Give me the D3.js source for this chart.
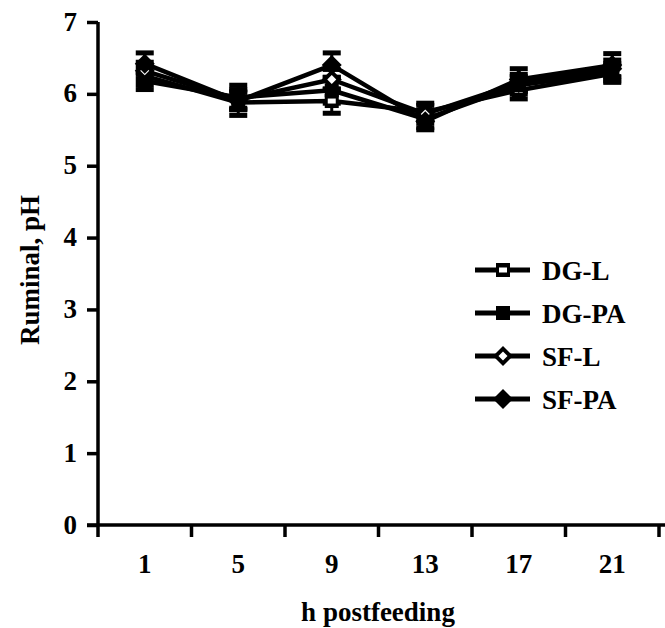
<!DOCTYPE html>
<html>
<head>
<meta charset="utf-8">
<script src="https://d3js.org/d3.v7.min.js"></script>
<style>
  body { margin: 0; background: #fff; }
  text { font-family: "Liberation Serif", "Times New Roman", serif; font-weight: bold; fill: #000; }
</style>
</head>
<body>
<svg id="drawing_region"></svg>
<script>
// hours postfeeding (categories)
const hours = ['1', '5', '9', '13', '17', '21'];
const seriesNames = ['DG-L', 'DG-PA', 'SF-L', 'SF-PA'];
// mean ruminal pH per series
const dgL  = [6.25, 5.88, 5.90, 5.75, 6.05, 6.28];
const dgPA = [6.18, 5.95, 6.05, 5.65, 6.12, 6.30];
const sfL  = [6.32, 5.92, 6.20, 5.72, 6.15, 6.35];
const sfPA = [6.42, 5.90, 6.40, 5.62, 6.20, 6.40];
// standard errors
const seDgL  = [0.12, 0.18, 0.17, 0.12, 0.12, 0.12];
const seDgPA = [0.12, 0.17, 0.18, 0.12, 0.12, 0.12];
const seSfL  = [0.12, 0.12, 0.14, 0.12, 0.12, 0.12];
const seSfPA = [0.15, 0.12, 0.17, 0.12, 0.15, 0.16];
const yTicks = [0, 1, 2, 3, 4, 5, 6, 7];

const series = [
  { name: seriesNames[0], values: dgL,  se: seDgL,  shape: 'square',  open: true },
  { name: seriesNames[1], values: dgPA, se: seDgPA, shape: 'square',  open: false },
  { name: seriesNames[2], values: sfL,  se: seSfL,  shape: 'diamond', open: true },
  { name: seriesNames[3], values: sfPA, se: seSfPA, shape: 'diamond', open: false }
];

const width = 665, height = 628;
const svg = d3.select('#drawing_region')
    .attr('width', width)
    .attr('height', height);

const x = d3.scaleBand()
    .domain(hours)
    .range([98, 659]);

const y = d3.scaleLinear()
    .domain([0, 7])
    .range([525, 22]);

// markers
function marker(g, s) {
  if (s.shape === 'square') {
    g.append('rect')
      .attr('x', -7).attr('y', -7).attr('width', 14).attr('height', 14)
      .attr('fill', '#000');
    if (s.open) {
      g.append('rect')
        .attr('x', -4).attr('y', -2.5).attr('width', 8).attr('height', 5)
        .attr('fill', '#fff');
    }
  } else {
    g.append('path')
      .attr('d', 'M0,-10L10,0L0,10L-10,0Z')
      .attr('fill', '#000');
    if (s.open) {
      g.append('path')
        .attr('d', 'M0,-4.5L4.5,0L0,4.5L-4.5,0Z')
        .attr('fill', '#fff');
    }
  }
}

const cx = h => x(h) + x.bandwidth() / 2;

const line = d3.line()
    .x((d, i) => cx(hours[i]))
    .y(d => y(d));

// error bars
series.forEach(s => {
  const g = svg.append('g');
  s.values.forEach((v, i) => {
    const px = cx(hours[i]);
    g.append('line')
      .attr('x1', px).attr('x2', px)
      .attr('y1', y(v - s.se[i])).attr('y2', y(v + s.se[i]))
      .attr('stroke', '#000').attr('stroke-width', 3);
    [v - s.se[i], v + s.se[i]].forEach(e => {
      g.append('line')
        .attr('x1', px - 9).attr('x2', px + 9)
        .attr('y1', y(e)).attr('y2', y(e))
        .attr('stroke', '#000').attr('stroke-width', 5);
    });
  });
});

// lines
series.forEach(s => {
  svg.append('path')
    .datum(s.values)
    .attr('d', line)
    .attr('fill', 'none')
    .attr('stroke', '#000')
    .attr('stroke-width', 4.5)
    .attr('stroke-linejoin', 'round');
});

series.forEach(s => {
  svg.append('g').selectAll('g')
    .data(s.values)
    .join('g')
    .attr('transform', (d, i) => `translate(${cx(hours[i])},${y(d)})`)
    .each(function() { marker(d3.select(this), s); });
});

// axes
const yAxis = svg.append('g')
    .attr('transform', 'translate(98,0)')
    .call(d3.axisLeft(y).tickValues(yTicks).tickSize(11).tickPadding(10).tickFormat(d3.format('d')));
yAxis.select('.domain').attr('d', `M0,${y(7)}V${y(0)}`).attr('stroke-width', 3.5);
yAxis.selectAll('.tick line').attr('stroke-width', 3.5);
yAxis.selectAll('.tick text')
    .attr('font-size', 27).attr('font-family', 'Liberation Serif').attr('font-weight', 'bold')
    .attr('dy', '0.3em');

const xAxis = svg.append('g')
    .attr('transform', 'translate(0,525)')
    .call(d3.axisBottom(x).tickSize(0).tickPadding(29));
xAxis.select('.domain').attr('d', 'M87,0H665').attr('stroke-width', 3.5);
xAxis.selectAll('.tick text').attr('font-size', 27).attr('font-family', 'Liberation Serif').attr('font-weight', 'bold');

// tick marks between categories
const bounds = [x.range()[0]].concat(hours.map(h => x(h) + x.bandwidth()));
svg.append('g').selectAll('line')
  .data(bounds)
  .join('line')
  .attr('x1', d => d).attr('x2', d => d)
  .attr('y1', 525).attr('y2', 537)
  .attr('stroke', '#000').attr('stroke-width', 3.5);

// axis titles
svg.append('text')
  .attr('transform', 'translate(39,270) rotate(-90)')
  .attr('text-anchor', 'middle')
  .attr('font-size', 27)
  .text('Ruminal, pH');

svg.append('text')
  .attr('x', 378).attr('y', 621)
  .attr('text-anchor', 'middle')
  .attr('font-size', 27)
  .text('h postfeeding');

// legend
const legend = svg.append('g');
series.forEach((s, i) => {
  const ly = 270 + i * 43;
  legend.append('line')
    .attr('x1', 475).attr('x2', 530).attr('y1', ly).attr('y2', ly)
    .attr('stroke', '#000').attr('stroke-width', 5);
  const mg = legend.append('g').attr('transform', `translate(503,${ly})`);
  marker(mg, s);
  legend.append('text')
    .attr('x', 542).attr('y', ly + 10)
    .attr('font-size', 27)
    .text(s.name);
});
</script>
</body>
</html>
